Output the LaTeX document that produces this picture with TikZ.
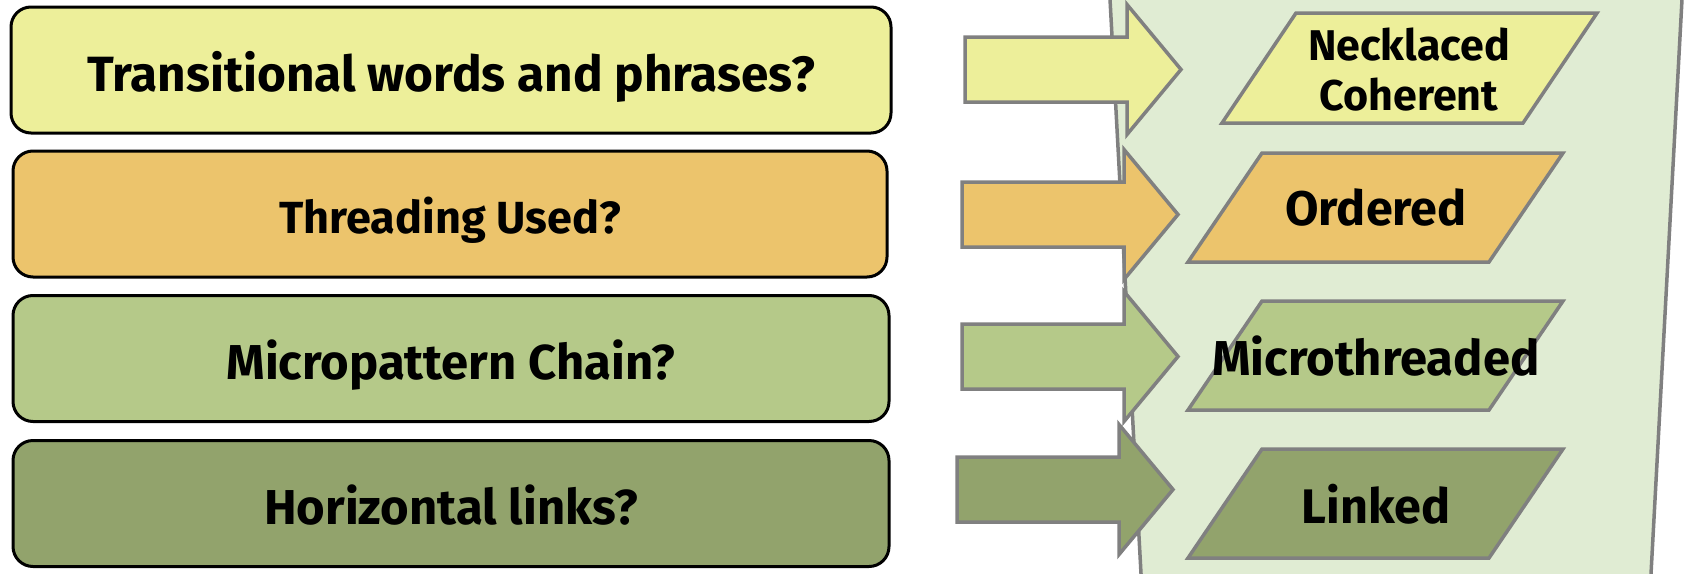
\documentclass[tikz,border=0pt]{standalone}
\usepackage{fontspec}
\setmainfont{Fira Sans}
\definecolor{qyellow}{RGB}{237,239,154}
\definecolor{qorange}{RGB}{236,196,108}
\definecolor{qlgreen}{RGB}{181,201,137}
\definecolor{qdgreen}{RGB}{146,163,108}
\definecolor{qpanel}{RGB}{224,236,211}
\definecolor{qgray}{RGB}{128,128,128}

\begin{document}
\begin{tikzpicture}[x=1pt,y=-1pt,
	question/.style={draw=black, line width=3pt, rounded corners=20pt, minimum width=876pt, minimum height=126pt, inner sep=0pt, text depth=0pt},
	outline/.style={draw=qgray, line width=3.5pt},
	answer/.style={anchor=base, align=center, inner sep=0pt}]
	\useasboundingbox (0,0) rectangle (1699,573);
	
	% green panel behind the answers
	\begin{scope}
		\clip (0,0) rectangle (1699,573);
		\draw [outline, fill=qpanel] (1109.5,-10) -- (1141.5,583) -- (1650.5,583) -- (1682.5,-10) -- cycle;
	\end{scope}
	
	\node [question, fill=qyellow, minimum width=880pt, text height=43pt, font=\bfseries\fontsize{49.5}{58}\selectfont] (q1) at (451,70) {Transitional words and phrases?};
	\node [question, fill=qorange, minimum width=874pt, text height=39pt, font=\bfseries\fontsize{45}{54}\selectfont] (q2) at (450,214) {Threading Used?};
	\node [question, fill=qlgreen, text height=42pt, font=\bfseries\fontsize{49}{58}\selectfont] (q3) at (451,358.5) {Micropattern Chain?};
	\node [question, fill=qdgreen, text height=42pt, font=\bfseries\fontsize{49}{58}\selectfont] (q4) at (451,503.5) {Horizontal links?};
	
	\foreach \x/\y/\c in {965/69.5/qyellow, 962/214.5/qorange, 962/356.5/qlgreen, 957/489.5/qdgreen}
	{
		\draw [outline, fill=\c] (\x,{\y-32.5}) -- ++(162,0) -- ++(0,-32.5) -- ++(54,65) -- ++(-54,65) -- ++(0,-32.5) -- ++(-162,0) -- cycle;
	}
	
	\foreach \x/\t/\b/\c in {1296/13/123/qyellow, 1262/153/262/qorange, 1262/301/410/qlgreen, 1262/449/558/qdgreen}
	{
		\draw [outline, fill=\c] (\x,\t) -- ++(301,0) -- ({\x+227},\b) -- ({\x-74},\b) -- cycle;
	}
	
	\node [answer, font=\bfseries\fontsize{43}{50}\selectfont] (a1) at (1409,110) {Necklaced\\Coherent};
	\node [answer, font=\bfseries\fontsize{48.5}{58}\selectfont] (a2) at (1376,225) {Ordered};
	\node [answer, font=\bfseries\fontsize{49}{58}\selectfont] (a3) at (1376,375) {Microthreaded};
	\node [answer, font=\bfseries\fontsize{48.5}{58}\selectfont] (a4) at (1376,523) {Linked};
	
\end{tikzpicture}
\end{document}
